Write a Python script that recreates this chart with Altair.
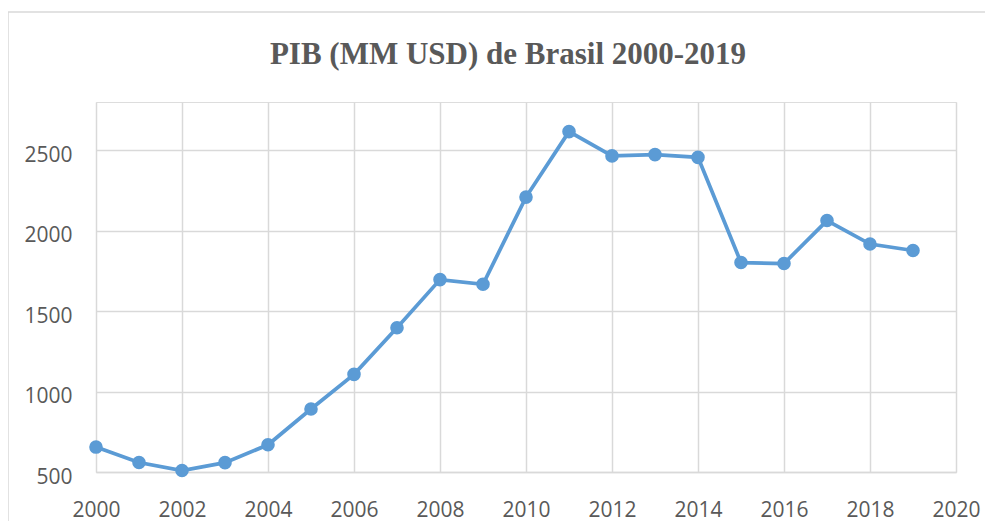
import altair as alt
import pandas as pd

years = list(range(2000, 2020))
gdp = [655, 559, 509, 558, 669, 892, 1107, 1397, 1696, 1667,
       2209, 2616, 2465, 2473, 2456, 1802, 1796, 2063, 1917, 1877]
x_ticks = list(range(2000, 2021, 2))
y_ticks = [500, 1000, 1500, 2000, 2500]

df = pd.DataFrame({"year": years, "gdp": gdp})

base = alt.Chart(df).encode(
    x=alt.X("year:Q", scale=alt.Scale(domain=[2000, 2020], nice=False, zero=False),
            axis=alt.Axis(values=x_ticks, format="d", title=None, ticks=False,
                          labelFlush=False, labelOverlap=False,
                          labelPadding=27, domain=True, domainColor="#d9d9d9",
                          domainWidth=1.5, gridColor="#d9d9d9", gridWidth=1.5,
                          labelFontSize=21, labelFont="Open Sans", labelColor="#595959")),
    y=alt.Y("gdp:Q", scale=alt.Scale(domain=[500, 2800], nice=False, zero=False),
            axis=alt.Axis(values=y_ticks, format="d", title=None, ticks=False, domain=False,
                          labelFlush=False, labelOverlap=False,
                          labelPadding=24, labelOffset=5, gridColor="#d9d9d9", gridWidth=1.5,
                          labelFontSize=21, labelFont="Open Sans", labelColor="#595959")),
)

line = base.mark_line(color="#5B9BD5", strokeWidth=3.75)
pts = base.mark_circle(color="#5B9BD5", opacity=1, size=185)

border = alt.Chart(pd.DataFrame({"a": [0]})).mark_rect(
    fill=None, stroke="#d9d9d9", strokeWidth=1.5
).encode(x=alt.value(-88), x2=alt.value(920), y=alt.value(-90), y2=alt.value(440))

chart = alt.layer(border, line, pts).properties(
    width=860, height=370,
    autosize=alt.AutoSizeParams(type="none"),
    padding={"left": 88, "top": 94, "right": 29, "bottom": 49},
    title=alt.Title("PIB (MM USD) de Brasil 2000-2019", font="Liberation Serif",
                    fontSize=31, fontWeight="bold", color="#595959",
                    anchor="middle", frame="group", dx=-18,
                    baseline="alphabetic", offset=-84),
).configure_view(stroke=None).configure(background="white")

chart.save("out.html", embed_options={"renderer": "svg", "actions": False})
